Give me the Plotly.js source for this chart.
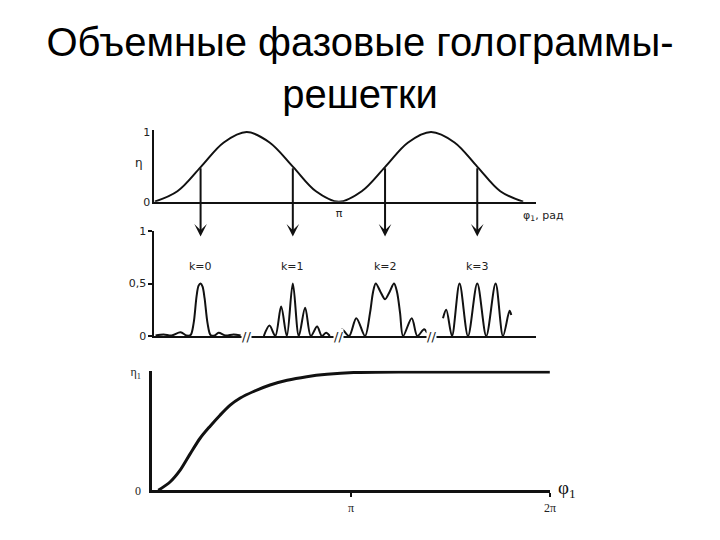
<!DOCTYPE html>
<html>
<head>
<meta charset="utf-8">
<script src="https://cdn.plot.ly/plotly-3.0.1.min.js"></script>
<style>html,body{margin:0;padding:0;background:#fff;}</style>
</head>
<body>
<div id="chart" style="width:720px;height:540px;"></div>
<script>
// ---------- text ----------
const titleText = "Объемные фазовые голограммы-<br>решетки";
const kLabels = ["k=0", "k=1", "k=2", "k=3"];

// ---------- panel 1 : η(φ1) ----------
const phiTop = [0, 0.39, 0.79, 1.18, 1.57, 1.96, 2.36, 2.75, 3.14, 3.53, 3.93, 4.32, 4.71, 5.11, 5.50, 5.89, 6.28];
const etaTop = [0, 0.15, 0.5, 0.85, 1, 0.85, 0.5, 0.15, 0, 0.15, 0.5, 0.85, 1, 0.85, 0.5, 0.15, 0];
const topTickVals = [3.1416];
const topTickText = ["π"];

// operating points (arrows) on the top curve
const opPhi = [0.785, 2.356, 3.927, 5.498];
const opEta = [0.5, 0.5, 0.5, 0.5];

// ---------- panel 2 : diffraction patterns around each operating point ----------
const k0Off = [-0.767, -0.630, -0.494, -0.341, -0.239, -0.170, -0.119, -0.068, -0.034, 0, 0.034, 0.068, 0.119, 0.170, 0.239, 0.307, 0.426, 0.562, 0.682];
const k0Val = [0.005, 0.015, 0.005, 0.035, 0.005, 0.01, 0.12, 0.38, 0.48, 0.5, 0.47, 0.36, 0.12, 0.01, 0.005, 0.03, 0.005, 0.015, 0.005];
const k1Off = [-0.494, -0.397, -0.298, -0.199, -0.102, 0, 0.102, 0.210, 0.307, 0.414, 0.494, 0.567, 0.630];
const k1Val = [0, 0.10, 0, 0.28, 0, 0.5, 0, 0.27, 0, 0.09, 0, 0.03, 0];
const k2Off = [-0.78, -0.733, -0.613, -0.489, -0.341, -0.256, -0.204, -0.158, -0.077, 0, 0.077, 0.153, 0.204, 0.256, 0.307, 0.455, 0.550, 0.665, 0.716];
const k2Val = [0, 0.065, 0, 0.17, 0, 0.22, 0.42, 0.5, 0.42, 0.35, 0.42, 0.5, 0.42, 0.22, 0, 0.17, 0, 0.065, 0.03];
const k3Off = [-0.584, -0.528, -0.431, -0.302, -0.158, 0, 0.153, 0.312, 0.438, 0.550, 0.579];
const k3Val = [0.17, 0.25, 0, 0.5, 0, 0.5, 0, 0.5, 0, 0.24, 0.2];
const midTickVals = [0, 0.5, 1];
const midTickText = ["0", "0,5", "1"];
const axisBreaks = [1.571, 3.142, 4.712];

// ---------- panel 3 : η1(φ1) saturation curve ----------
const phiBot = [0.095, 0.28, 0.44, 0.60, 0.755, 0.91, 1.07, 1.23, 1.39, 1.60, 1.86, 2.13, 2.44, 2.76, 3.18, 4.0, 5.0, 6.28];
const etaBot = [0, 0.07, 0.17, 0.31, 0.44, 0.54, 0.635, 0.72, 0.78, 0.835, 0.89, 0.93, 0.96, 0.98, 0.995, 1, 1, 1];
const botXTickVals = [3.1416, 6.2832];
const botXTickText = ["π", "2π"];
const botYTickVals = [0, 1];
const botYTickText = ["0", "η<sub>1</sub>"];

// ---------- build ----------
const sans = "DejaVu Sans, Verdana, sans-serif";
const serif = "Liberation Serif, Times New Roman, serif";
const patterns = [[k0Off, k0Val], [k1Off, k1Val], [k2Off, k2Val], [k3Off, k3Val]];

const traces = [{
  x: phiTop, y: etaTop, xaxis: "x", yaxis: "y", type: "scatter", mode: "lines",
  line: {color: "#111", width: 2, shape: "spline", smoothing: 1}, hoverinfo: "skip"
}];
patterns.forEach(function (p, i) {
  traces.push({
    x: p[0].map(function (d) { return opPhi[i] + d; }), y: p[1],
    xaxis: "x2", yaxis: "y2", type: "scatter", mode: "lines",
    line: {color: "#111", width: 2, shape: "spline", smoothing: 0.9}, hoverinfo: "skip"
  });
});
traces.push({
  x: phiBot, y: etaBot, xaxis: "x3", yaxis: "y3", type: "scatter", mode: "lines",
  line: {color: "#111", width: 3, shape: "spline", smoothing: 0.8}, hoverinfo: "skip"
});

const annotations = [];
// arrows from the operating points on the top curve down to the patterns
opPhi.forEach(function (p, i) {
  annotations.push({
    xref: "x", yref: "y", axref: "x", ayref: "y",
    x: p, y: -0.5, ax: p, ay: opEta[i], text: "",
    showarrow: true, arrowhead: 3, arrowsize: 1.05, arrowwidth: 2, arrowcolor: "#111", standoff: 0
  });
  annotations.push({
    xref: "x2", yref: "y2", x: p, y: 0.66, text: kLabels[i], showarrow: false,
    font: {family: sans, size: 11, color: "#222"}
  });
});
axisBreaks.forEach(function (b) {
  annotations.push({
    xref: "x2", yref: "y2", x: b, y: 0, text: "//", showarrow: false,
    bgcolor: "white", borderpad: 0, font: {family: sans, size: 13, color: "#222"}
  });
});
annotations.push({xref: "x", yref: "y", x: 0, y: 0.55, xanchor: "right", xshift: -9, text: "η",
  showarrow: false, font: {family: sans, size: 12, color: "#222"}});
annotations.push({xref: "x", yref: "y", x: 6.28, y: 0, xanchor: "left", yanchor: "top", yshift: -5, xshift: -2,
  text: "φ<sub>1</sub>, рад", showarrow: false, font: {family: sans, size: 11, color: "#222"}});
annotations.push({xref: "x3", yref: "y3", x: 6.2832, y: 0, xanchor: "left", xshift: 6, yshift: 1,
  text: "φ<sub>1</sub>", showarrow: false, font: {family: serif, size: 19, color: "#111"}});

const ax1 = {showgrid: false, zeroline: false, showline: true, linecolor: "#111", linewidth: 2, ticks: ""};

const layout = {
  width: 720, height: 540, margin: {l: 0, r: 0, t: 0, b: 0},
  paper_bgcolor: "white", plot_bgcolor: "rgba(0,0,0,0)", showlegend: false,
  separators: ",.",
  title: {text: titleText, font: {family: "Liberation Sans, Arial, sans-serif", size: 40, color: "#000"},
    x: 0.5, xanchor: "center", y: 0.896, yanchor: "top"},
  xaxis: Object.assign({}, ax1, {domain: [0.21458, 0.74458], range: [0, 6.5], anchor: "y",
    tickvals: topTickVals, ticktext: topTickText, tickfont: {family: sans, size: 11, color: "#222"}}),
  yaxis: Object.assign({}, ax1, {domain: [0.62648, 0.75944], range: [0, 1.03], anchor: "x",
    tickvals: [0, 1], ticktext: ["0", "1"], tickfont: {family: sans, size: 11, color: "#222"}}),
  xaxis2: Object.assign({}, ax1, {domain: [0.21458, 0.74458], range: [0, 6.5], anchor: "y2",
    showticklabels: false}),
  yaxis2: Object.assign({}, ax1, {domain: [0.37778, 0.57222], range: [0, 1], anchor: "x2",
    tickvals: midTickVals, ticktext: midTickText, ticks: "outside", ticklen: 4, tickwidth: 2, tickcolor: "#111",
    tickfont: {family: sans, size: 11, color: "#222"}}),
  xaxis3: Object.assign({}, ax1, {domain: [0.21153, 0.76389], range: [0, 6.2832], anchor: "y3",
    linewidth: 3, tickvals: botXTickVals, ticktext: botXTickText, ticks: "outside", ticklen: 4, tickwidth: 2,
    tickcolor: "#111", tickfont: {family: serif, size: 12, color: "#222"}}),
  yaxis3: Object.assign({}, ax1, {domain: [0.09204, 0.31333], range: [0, 1.01], anchor: "x3",
    linewidth: 3, tickvals: botYTickVals, ticktext: botYTickText, ticklabelstandoff: 6,
    tickfont: {family: serif, size: 12, color: "#222"}}),
  annotations: annotations
};

Plotly.newPlot("chart", traces, layout, {staticPlot: true, displayModeBar: false});
</script>
</body>
</html>
